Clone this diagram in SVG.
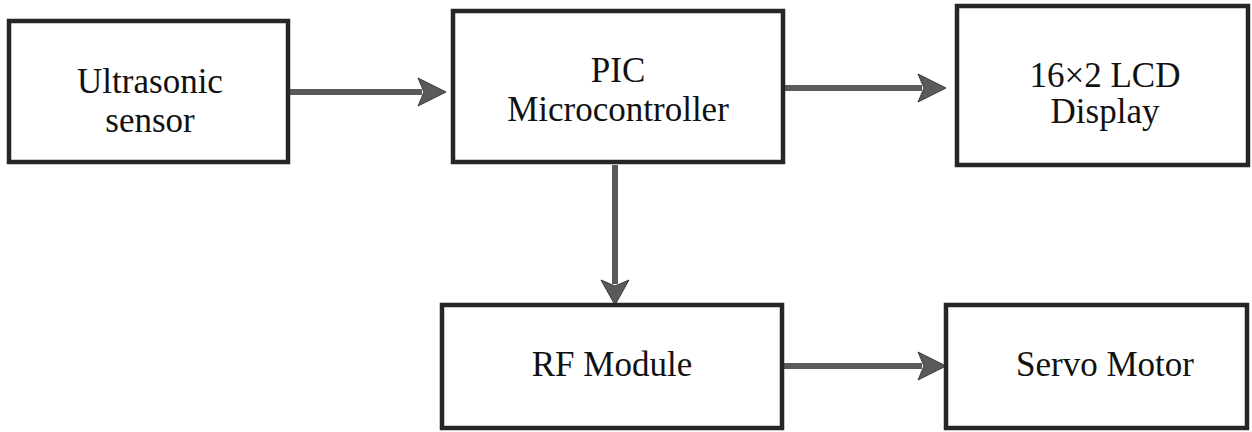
<svg xmlns="http://www.w3.org/2000/svg" width="1252" height="432" viewBox="0 0 1252 432">
  <style>
    .box { fill: #ffffff; stroke: #262626; stroke-width: 4.5; }
    .label { font-family: "Liberation Serif", "Times New Roman", serif; font-size: 35px; fill: #111111; text-anchor: middle; }
    .wire { stroke: #5a5a5a; stroke-width: 6; fill: none; }
    .head { fill: #5a5a5a; stroke: #3a3a3a; stroke-width: 1; }
  </style>
  <rect width="1252" height="432" fill="#ffffff"/>

  <!-- connectors -->
  <g id="connectors">
    <!-- Ultrasonic sensor -> PIC -->
    <line class="wire" x1="290" y1="92" x2="422" y2="92"/>
    <polygon class="head" points="418,78 446,92 418,106 424,92"/>
    <!-- PIC -> LCD -->
    <line class="wire" x1="785" y1="88" x2="922" y2="88"/>
    <polygon class="head" points="918,74 946,88 918,102 924,88"/>
    <!-- PIC -> RF module -->
    <line class="wire" x1="615" y1="165" x2="615" y2="284"/>
    <polygon class="head" points="601,280 615,305 629,280 615,286"/>
    <!-- RF module -> Servo -->
    <line class="wire" x1="784" y1="366" x2="922" y2="366"/>
    <polygon class="head" points="918,352 946,366 918,380 924,366"/>
  </g>

  <g id="ultrasonic">
    <rect class="box" x="9" y="21" width="279" height="141"/>
    <text class="label" x="150" y="93">Ultrasonic</text>
    <text class="label" x="150" y="132">sensor</text>
  </g>

  <g id="pic">
    <rect class="box" x="453" y="11" width="330" height="151"/>
    <text class="label" x="618" y="82">PIC</text>
    <text class="label" x="618" y="121">Microcontroller</text>
  </g>

  <g id="lcd">
    <rect class="box" x="957" y="6" width="291" height="159"/>
    <text class="label" x="1105" y="87">16×2 LCD</text>
    <text class="label" x="1105" y="123">Display</text>
  </g>

  <g id="rf">
    <rect class="box" x="442" y="305" width="340" height="123"/>
    <text class="label" x="612" y="376">RF Module</text>
  </g>

  <g id="servo">
    <rect class="box" x="946" y="305" width="301" height="123"/>
    <text class="label" x="1105" y="376">Servo Motor</text>
  </g>
</svg>
